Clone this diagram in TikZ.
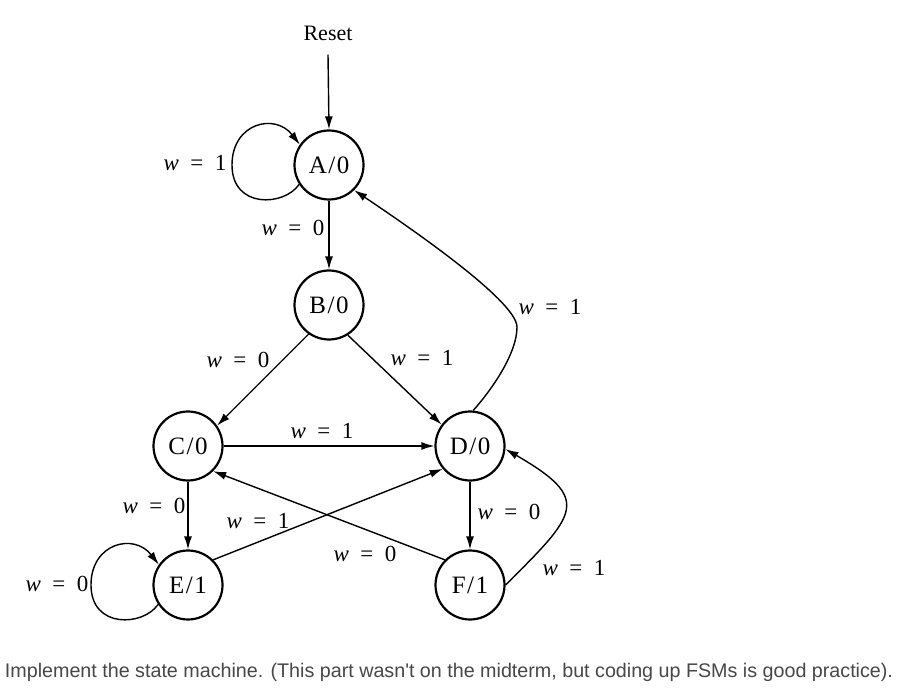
\documentclass[tikz,border=0pt]{standalone}
\usepackage{fontspec}
\setmainfont{Liberation Serif}
\newfontfamily\capfont{Liberation Sans}
\usepackage{tikz}
\usetikzlibrary{arrows.meta}

\tikzset{
	state/.style={circle,draw,line width=2.2pt,minimum size=69pt,inner sep=0pt,font=\fontsize{25}{29}\selectfont},
	edge/.style={-{Latex[length=13pt,width=8pt]},line width=1.4pt},
	lbl/.style={inner sep=0pt,font=\fontsize{23}{27}\selectfont},
}
\newcommand{\wlab}[1]{\textit{w}\ \ =\ \ #1}
\newcommand{\stlab}[2]{#1\kern1.5pt/\kern1.5pt#2}

\begin{document}
\begin{tikzpicture}[x=1pt,y=1pt]
	\useasboundingbox (0,0) rectangle (912,-692);
	\node[state] (A) at (329,-165) {\stlab{A}{0}};
	\node[state] (B) at (329,-305) {\stlab{B}{0}};
	\node[state] (C) at (188,-446) {\stlab{C}{0}};
	\node[state] (D) at (470,-446) {\stlab{D}{0}};
	\node[state] (E) at (188,-585) {\stlab{E}{1}};
	\node[state] (F) at (470,-585) {\stlab{F}{1}};
	\node[lbl,font=\fontsize{22}{26}\selectfont] (reset) at (328,-33) {Reset};
%edges
	\draw[edge] ([yshift=-14pt]reset.south) -- (A.north);
	\draw[edge] (A.213) .. controls +(-15,-22) and +(0,-44) .. ([xshift=-97pt]A.center)
		.. controls +(0,42) and +(-25,32) .. (A.145);
	\draw[edge] (A) -- (B);
	\draw[edge] (B.235) -- (C.35);
	\draw[edge] (B.-58) -- (D.143);
	\draw[edge] (C) -- (D);
	\draw[edge] (C) -- (E);
	\draw[edge] (D) -- (F);
	\draw[edge] (E.45) -- (D.220);
	\draw[edge] (F.135) -- (C.-45);
	\draw[edge] (E.213) .. controls +(-15,-22) and +(0,-44) .. ([xshift=-97pt]E.center)
		.. controls +(0,42) and +(-25,32) .. (E.145);
	\draw[edge] (D.85) .. controls (489,-393) and (517,-355) .. (517,-327)
		.. controls (517,-300) and (400,-221) .. (A.-45);
	\draw[edge] (F.east) to[out=45,in=-30,looseness=1.9] (D.-5);
%labels
	\node[lbl] (lAA) at (195,-163) {\wlab{1}};
	\node[lbl] (lAB) at (293,-228) {\wlab{0}};
	\node[lbl] (lBC) at (238,-360) {\wlab{0}};
	\node[lbl] (lBD) at (422,-358) {\wlab{1}};
	\node[lbl] (lCD) at (322,-431) {\wlab{1}};
	\node[lbl] (lDA) at (550,-307) {\wlab{1}};
	\node[lbl] (lCE) at (154,-506) {\wlab{0}};
	\node[lbl] (lED) at (258,-521) {\wlab{1}};
	\node[lbl] (lFC) at (365,-554) {\wlab{0}};
	\node[lbl] (lDF) at (509,-512) {\wlab{0}};
	\node[lbl] (lFD) at (574,-568) {\wlab{1}};
	\node[lbl] (lEE) at (57,-584) {\wlab{0}};
	\node[inner sep=0pt,text=black!72,font=\capfont\fontsize{19.7}{23}\selectfont] (caption) at (449,-672) {Implement the state machine. (This part wasn't on the midterm, but coding up FSMs is good practice).};
\end{tikzpicture}
\end{document}
